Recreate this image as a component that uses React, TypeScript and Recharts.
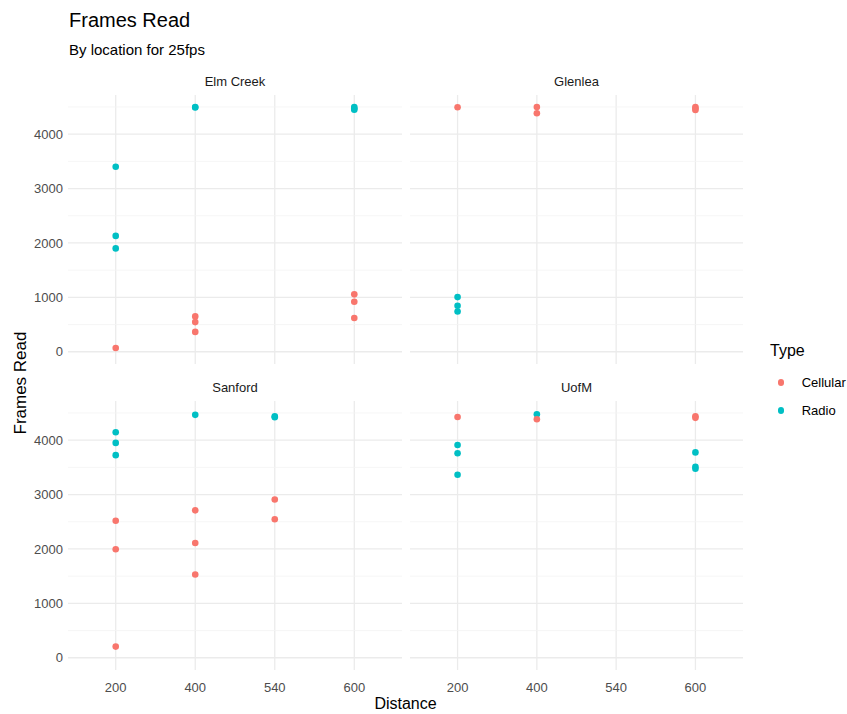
import React from "react";
import { ScatterChart, Scatter, XAxis, YAxis, CartesianGrid, ReferenceLine } from "recharts";

const distances = ["200", "400", "540", "600"];
const xTicks = [1, 2, 3, 4];
const yTicks = [0, 1000, 2000, 3000, 4000];
const yMinor = [500, 1500, 2500, 3500, 4500];

type Pt = [string, number];

const elmCreekCellular: Pt[] = [
  ["200", 70], ["400", 650], ["400", 545], ["400", 365],
  ["600", 1055], ["600", 920], ["600", 620],
];
const elmCreekRadio: Pt[] = [
  ["200", 3400], ["200", 2130], ["200", 1900],
  ["400", 4490], ["400", 4500],
  ["600", 4500], ["600", 4470], ["600", 4450],
];
const glenleaCellular: Pt[] = [
  ["200", 4495], ["400", 4500], ["400", 4385],
  ["600", 4500], ["600", 4470], ["600", 4445],
];
const glenleaRadio: Pt[] = [["200", 1005], ["200", 845], ["200", 740]];
const sanfordCellular: Pt[] = [
  ["200", 2520], ["200", 1995], ["200", 205],
  ["400", 2710], ["400", 2110], ["400", 1530],
  ["540", 2910], ["540", 2545],
];
const sanfordRadio: Pt[] = [
  ["200", 4145], ["200", 3950], ["200", 3725],
  ["400", 4465], ["540", 4440], ["540", 4420],
];
const uofmCellular: Pt[] = [["200", 4425], ["400", 4385], ["600", 4440], ["600", 4410]];
const uofmRadio: Pt[] = [
  ["200", 3910], ["200", 3760], ["200", 3365],
  ["400", 4475], ["600", 3775], ["600", 3510], ["600", 3475],
];

const CELL = "#F8766D";
const RADIO = "#00BFC4";
const FONT = '"Liberation Sans", Arial, sans-serif';

const toRows = (pts: Pt[]) => pts.map(([d, v]) => ({ x: distances.indexOf(d) + 1, y: v }));

const Dot = (props: any) => <circle cx={props.cx} cy={props.cy} r={3.3} fill={props.fill} />;

const PANEL_W = 334;
const PANEL_H = 269;
const AXIS_W = 60;
const AXIS_H = 25;

interface PanelProps {
  name: string;
  cellular: Pt[];
  radio: Pt[];
  left: number;
  top: number;
  showY: boolean;
  showX: boolean;
}

function Panel({ name, cellular, radio, left, top, showY, showX }: PanelProps) {
  const plotW = showY ? PANEL_W : PANEL_W - 1;
  const w = (showY ? AXIS_W : 0) + plotW;
  const h = PANEL_H + (showX ? AXIS_H : 0);
  const plotLeft = left + (showY ? AXIS_W : 0);
  return (
    <>
      <div
        style={{
          position: "absolute", left: plotLeft, top: top - 20, width: plotW,
          textAlign: "center", fontSize: 13, lineHeight: "13px", color: "#1A1A1A",
        }}
      >
        {name}
      </div>
      <div style={{ position: "absolute", left, top }}>
        <ScatterChart width={w} height={h} margin={{ top: 0, right: 0, bottom: 0, left: 0 }}>
          <CartesianGrid
            stroke="#EBEBEB"
            strokeWidth={1.3}
            horizontalValues={yTicks}
            verticalValues={xTicks}
          />
          {yMinor.map((v) => (
            <ReferenceLine key={v} y={v} stroke="#F4F4F4" strokeWidth={0.8} />
          ))}
          <XAxis
            type="number"
            dataKey="x"
            domain={[0.4, 4.6]}
            ticks={xTicks}
            tickFormatter={(i: number) => distances[i - 1]}
            hide={!showX}
            height={AXIS_H}
            axisLine={false}
            tickLine={false}
            tickSize={0}
            tickMargin={13}
            tick={{ fontSize: 13, fill: "#4D4D4D" }}
          />
          <YAxis
            type="number"
            dataKey="y"
            domain={[-225, 4720]}
            ticks={yTicks}
            hide={!showY}
            width={AXIS_W}
            axisLine={false}
            tickLine={false}
            tickSize={0}
            tickMargin={5}
            tick={{ fontSize: 13, fill: "#4D4D4D" }}
          />
          <Scatter data={toRows(radio)} fill={RADIO} shape={Dot} isAnimationActive={false} />
          <Scatter data={toRows(cellular)} fill={CELL} shape={Dot} isAnimationActive={false} />
        </ScatterChart>
      </div>
    </>
  );
}

export default function App() {
  return (
    <div
      style={{
        position: "absolute", left: 0, top: 0, width: 847, height: 714, overflow: "hidden",
        fontFamily: FONT, background: "#fff",
      }}
    >
      <div style={{ position: "absolute", left: 69, top: 10, fontSize: 20, lineHeight: "20px", color: "#000" }}>
        Frames Read
      </div>
      <div style={{ position: "absolute", left: 69, top: 42, fontSize: 15, lineHeight: "15px", color: "#000" }}>
        By location for 25fps
      </div>

      <Panel name="Elm Creek" cellular={elmCreekCellular} radio={elmCreekRadio} left={8} top={95} showY showX={false} />
      <Panel name="Glenlea" cellular={glenleaCellular} radio={glenleaRadio} left={410} top={95} showY={false} showX={false} />
      <Panel name="Sanford" cellular={sanfordCellular} radio={sanfordRadio} left={8} top={401} showY showX />
      <Panel name="UofM" cellular={uofmCellular} radio={uofmRadio} left={410} top={401} showY={false} showX />

      <div
        style={{
          position: "absolute", left: 20, top: 383, fontSize: 17, lineHeight: "17px", color: "#000",
          whiteSpace: "nowrap", transform: "translate(-50%, -50%) rotate(-90deg)",
        }}
      >
        Frames Read
      </div>
      <div
        style={{
          position: "absolute", left: 68, width: 675, top: 696, textAlign: "center",
          fontSize: 16, lineHeight: "16px", color: "#000",
        }}
      >
        Distance
      </div>

      <div style={{ position: "absolute", left: 770, top: 343, fontSize: 16, lineHeight: "16px", color: "#000" }}>
        Type
      </div>
      {[
        { label: "Cellular", color: CELL, cy: 382.3 },
        { label: "Radio", color: RADIO, cy: 410.7 },
      ].map((it) => (
        <React.Fragment key={it.label}>
          <div
            style={{
              position: "absolute", left: 781 - 3.3, top: it.cy - 3.3, width: 6.6, height: 6.6,
              borderRadius: "50%", background: it.color,
            }}
          />
          <div
            style={{
              position: "absolute", left: 801.7, top: it.cy - 6.3, fontSize: 13, lineHeight: "13px",
              color: "#000", whiteSpace: "nowrap",
            }}
          >
            {it.label}
          </div>
        </React.Fragment>
      ))}
    </div>
  );
}
